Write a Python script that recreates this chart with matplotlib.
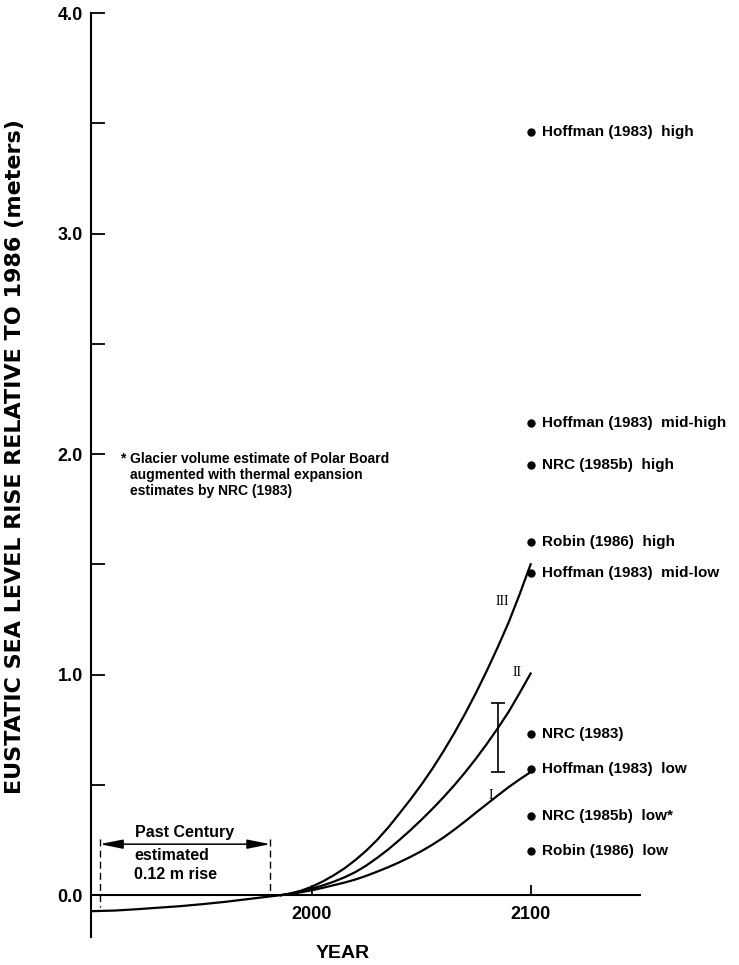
import matplotlib.pyplot as plt

plt.rcParams['font.family'] = ['Liberation Sans', 'DejaVu Sans']

# past century (metres relative to 1986)
past_years = [1899, 1910, 1920, 1930, 1940, 1950, 1960, 1970, 1975, 1980, 1986]
past_rise = [-0.073, -0.070, -0.064, -0.057, -0.050, -0.041, -0.031, -0.019, -0.013, -0.007, 0.0]

# projection scenarios I, II, III
proj_years = [1986, 1990, 1995, 2000, 2005, 2010, 2015, 2020, 2025, 2030, 2035, 2040,
              2045, 2050, 2055, 2060, 2065, 2070, 2075, 2080, 2085, 2090, 2095, 2100]
scen_I = [0.0, 0.005, 0.013, 0.022, 0.033, 0.045, 0.057, 0.071, 0.088, 0.107, 0.127, 0.149,
          0.173, 0.199, 0.228, 0.260, 0.296, 0.334, 0.374, 0.413, 0.452, 0.490, 0.525, 0.558]
scen_II = [0.0, 0.006, 0.016, 0.029, 0.044, 0.061, 0.081, 0.105, 0.135, 0.170, 0.208, 0.250,
           0.294, 0.341, 0.390, 0.442, 0.497, 0.556, 0.619, 0.686, 0.757, 0.832, 0.917, 1.005]
scen_III = [0.0, 0.007, 0.020, 0.038, 0.062, 0.090, 0.122, 0.160, 0.203, 0.252, 0.308, 0.370,
            0.433, 0.500, 0.572, 0.650, 0.733, 0.822, 0.917, 1.018, 1.125, 1.238, 1.365, 1.500]

# published estimates for 2100
est_labels = ['Hoffman (1983)  high', 'Hoffman (1983)  mid-high', 'NRC (1985b)  high',
              'Robin (1986)  high', 'Hoffman (1983)  mid-low', 'NRC (1983)',
              'Hoffman (1983)  low', 'NRC (1985b)  low*', 'Robin (1986)  low']
est_values = [3.46, 2.14, 1.95, 1.60, 1.46, 0.73, 0.57, 0.36, 0.20]
est_year = 2100

# range bar
bar_year = 2085
bar_low, bar_high = 0.56, 0.87

x_ticks = [2000, 2100]
y_major = [0.0, 1.0, 2.0, 3.0, 4.0]
y_minor = [0.5, 1.5, 2.5, 3.5]

fig = plt.figure(figsize=(7.39, 9.65), dpi=100)
ax = fig.add_axes([91 / 739, 28 / 965, 549 / 739, 924 / 965])
ax.set_xlim(1899, 2150)
ax.set_ylim(-0.19, 4.0)

ax.spines['top'].set_visible(False)
ax.spines['right'].set_visible(False)
ax.spines['bottom'].set_position(('data', 0))
ax.spines['left'].set_linewidth(1.5)
ax.spines['bottom'].set_linewidth(1.5)

ax.set_xticks(x_ticks)
ax.set_xticklabels([str(v) for v in x_ticks])
ax.set_yticks(y_major)
ax.set_yticklabels(['%.1f' % v for v in y_major])
ax.set_yticks(y_minor, minor=True)
ax.tick_params(axis='x', direction='in', length=7, width=1.3, pad=8, labelsize=13)
ax.tick_params(axis='y', which='both', direction='in', length=10, width=1.3, pad=6, labelsize=13)
for t in ax.get_xticklabels() + ax.get_yticklabels():
    t.set_fontweight('bold')

ax.set_xlabel('YEAR', fontsize=14, fontweight='bold')
ax.xaxis.set_label_coords(0.459, -0.009)
ax.set_ylabel('EUSTATIC SEA LEVEL RISE RELATIVE TO 1986 (meters)', fontsize=16,
              fontweight='bold', family='DejaVu Sans')
ax.yaxis.set_label_coords(-0.121, 0.52)

# curves
ax.plot(past_years, past_rise, color='black', lw=1.6)
for vals in (scen_I, scen_II, scen_III):
    ax.plot(proj_years, vals, color='black', lw=1.6)

ax.text(2087, 1.33, 'III', family='Liberation Serif', fontsize=10, ha='center', va='center')
ax.text(2094, 1.01, 'II', family='Liberation Serif', fontsize=10, ha='center', va='center')
ax.text(2082, 0.45, 'I', family='Liberation Serif', fontsize=10, ha='center', va='center')

# range bar
mid = (bar_low + bar_high) / 2
ax.errorbar([bar_year], [mid], yerr=[(bar_high - bar_low) / 2], fmt='none',
            ecolor='black', elinewidth=1.2, capsize=5, capthick=1.2)

# estimates
ax.plot([est_year] * len(est_values), est_values, 'o', color='black', ms=5)
for lab, v in zip(est_labels, est_values):
    ax.annotate(lab, (est_year, v), xytext=(8, 0), textcoords='offset points',
                ha='left', va='center', fontsize=11, fontweight='bold')

# past century bracket
ax.annotate('', xy=(1903, 0.231), xytext=(1981, 0.231),
            arrowprops=dict(arrowstyle='<|-|>,head_length=1.0,head_width=0.2',
                            mutation_scale=14, lw=1.1, color='black',
                            shrinkA=0, shrinkB=0))
ax.plot([1903, 1903], [0.254, -0.055], color='black', lw=1.0, ls=(0, (5, 3)))
ax.plot([1981, 1981], [0.254, 0.0], color='black', lw=1.0, ls=(0, (5, 3)))
ax.text(1942, 0.286, 'Past Century', fontsize=11.5, fontweight='bold', ha='center', va='center')
ax.text(1918.7, 0.181, 'estimated', fontsize=11.5, fontweight='bold', ha='left', va='center')
ax.text(1918.7, 0.095, '0.12 m rise', fontsize=11.5, fontweight='bold', ha='left', va='center')

# footnote
ax.text(1913.5, 1.98, '*', fontsize=10, fontweight='bold', ha='center', va='center')
ax.text(1917, 1.905, 'Glacier volume estimate of Polar Board\naugmented with thermal expansion\nestimates by NRC (1983)',
        fontsize=10, fontweight='bold', ha='left', va='center', linespacing=1.2)

fig.savefig('out.png', dpi=100)
